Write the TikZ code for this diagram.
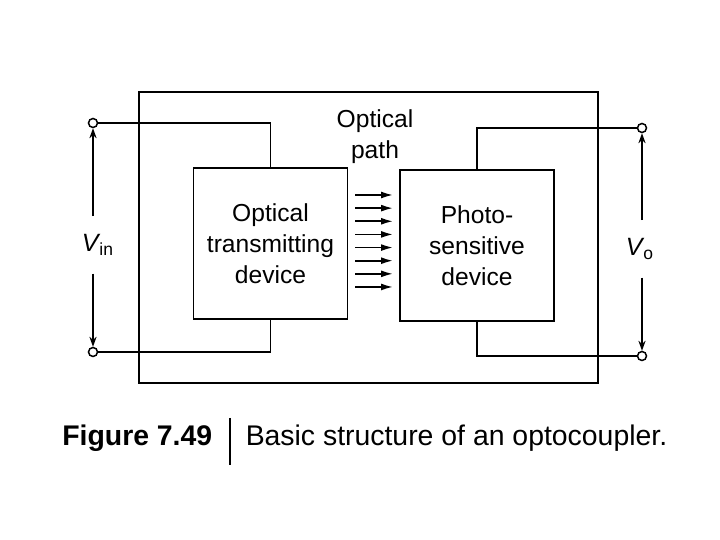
\documentclass[tikz,border=0pt]{standalone}
\usepackage{fontspec}
\setmainfont{Liberation Sans}
\usetikzlibrary{arrows.meta}

\begin{document}
\begin{tikzpicture}[
        x=0.5pt, y=-0.5pt,
        >={Stealth[length=5pt,width=3.6pt]},
        line width=0.75pt,
        device/.style={draw, rectangle, minimum width=77pt, minimum height=75.5pt, inner sep=0pt, align=center, font=\fontsize{12.3}{15.5}\selectfont},
        terminal/.style={draw, circle, fill=white, minimum size=4.5pt, inner sep=0pt},
        volt/.style={inner sep=0pt, minimum height=28pt, font=\fontsize{12.5}{15}\selectfont},
        ray/.style={-{Latex[length=6pt,width=3.4pt]}, line width=0.9pt, shorten <=3.5pt, shorten >=3pt},
        capt/.style={inner sep=0pt, font=\fontsize{14.2}{17}\selectfont}
    ]
    \useasboundingbox (0,0) rectangle (720,540);
    % package outline
    \draw (139,92) rectangle (598,383);

    \node[device] (tx) at (270.5,243.5) {Optical\\transmitting\\device};
    \node[device] (rx) at (477,245.5) {Photo-\\sensitive\\device};
    \node[align=center, inner sep=0pt, font=\fontsize{12.3}{15.5}\selectfont] (path) at (375,137) {Optical\\path};

    % terminals
    \node[terminal] (inA) at (93,123) {};
    \node[terminal] (inB) at (93,352) {};
    \node[terminal] (outA) at (642,128) {};
    \node[terminal] (outB) at (642,356) {};

    % leads
    \draw (inA) -| (tx.north);
    \draw (inB) -| (tx.south);
    \draw (outA) -| (rx.north);
    \draw (outB) -| (rx.south);

    % voltages
    \node[volt] (vin) at (98,245) {\textit{V}\kern-0.5pt\textsubscript{in}};
    \node[volt] (vo) at (640,249) {\textit{V}\kern-0.5pt\textsubscript{o}};
    \draw[->] (vin.north -| inA) -- (inA);
    \draw[->] (vin.south -| inB) -- (inB);
    \draw[->] (vo.north -| outA) -- (outA);
    \draw[->] (vo.south -| outB) -- (outB);

    % light rays
    \foreach \i in {0,...,7} {
        \coordinate (r\i) at ([yshift={24.25pt-6.57pt*\i}]tx.east);
        \draw[ray] (r\i) -- (r\i -| rx.west);
    }

    % caption
    \node[capt, anchor=base east] (fig) at (213,446) {\bfseries Figure 7.49};
    \node[capt, anchor=base west] (cap) at (245,446) {Basic structure of an optocoupler.};
    \coordinate (bar) at (230,418);
    \draw (bar) -- ++(0,47);
\end{tikzpicture}
\end{document}
